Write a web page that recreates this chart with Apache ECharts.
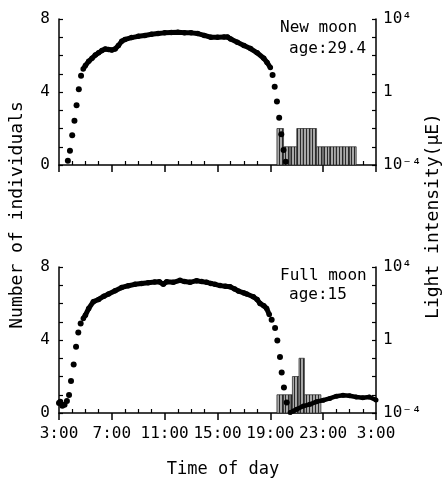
<!DOCTYPE html>
<html><head><meta charset="utf-8">
<script src="https://cdn.jsdelivr.net/npm/echarts@6/dist/echarts.min.js"></script>
<style>html,body{margin:0;padding:0;background:#fff}#c{width:445px;height:482px}</style>
</head><body><div id="c"></div>
<script>
// Time is given in hours since 3:00 (0 = 3:00, 24 = 3:00 next day)
const xTickLabels = ['3:00', '7:00', '11:00', '15:00', '19:00', '23:00', '3:00'];

// ---- New moon (age 29.4) ----
// light intensity (μE), steep dawn/dusk part (separate dots)
const newMoonDotTime = [0.67, 0.83, 1.0, 1.17, 1.33, 1.5, 1.67, 16.17, 16.33, 16.5, 16.67, 16.83, 17.0, 17.17];
const newMoonDotLight = [1.7e-4, 6.0e-4, 4.3e-3, 2.7e-2, 0.19, 1.4, 7.8, 8.5, 1.95, 0.30, 0.039, 0.0048, 6.6e-4, 1.5e-4];
// daytime part (dense dots forming a band)
const newMoonBandTime = [1.83, 2.0, 2.25, 2.5, 2.75, 3.0, 3.25, 3.5, 3.75, 4.0, 4.25, 4.5, 4.75, 5.0, 5.5, 6.0, 6.5, 7.0, 7.5, 8.0, 8.5, 9.0, 9.5, 10.0, 10.5, 11.0, 11.5, 12.0, 12.5, 12.75, 13.0, 13.5, 14.0, 14.5, 15.0, 15.5, 15.75, 16.0];
const newMoonBandLight = [18, 28, 48, 71, 105, 141, 186, 229, 214, 200, 229, 355, 603, 759, 955, 1122, 1259, 1445, 1585, 1738, 1820, 1862, 1778, 1738, 1585, 1259, 1000, 1000, 1047, 1047, 794, 525, 355, 240, 141, 71, 42, 22];
// number of individuals (histogram)
const newMoonBarStart = [16.5, 17.0, 17.5, 18.0, 18.5, 19.0, 19.5, 20.0, 20.5, 21.0, 21.5, 22.0];
const newMoonBarEnd   = [17.0, 17.5, 18.0, 18.5, 19.0, 19.5, 20.0, 20.5, 21.0, 21.5, 22.0, 22.5];
const newMoonBarCount = [2, 1, 1, 2, 2, 2, 1, 1, 1, 1, 1, 1];

// ---- Full moon (age 15) ----
const fullMoonDotTime = [0.0, 0.1, 0.25, 0.42, 0.6, 0.76, 0.91, 1.11, 1.29, 1.46, 1.64, 16.1, 16.36, 16.53, 16.73, 16.86, 17.03, 17.24];
const fullMoonDotLight = [3.5e-4, 4.2e-4, 2.5e-4, 2.8e-4, 4.6e-4, 9.8e-4, 5.6e-3, 0.046, 0.43, 2.6, 8.1, 13, 4.6, 0.95, 0.117, 0.0166, 0.0025, 3.8e-4];
const fullMoonBandTime = [1.84, 2.0, 2.25, 2.6, 3.0, 3.4, 3.75, 4.25, 4.75, 5.25, 5.75, 6.25, 6.75, 7.25, 7.6, 7.9, 8.15, 8.65, 9.16, 9.5, 9.92, 10.42, 10.8, 11.18, 11.5, 11.81, 12.19, 12.6, 12.95, 13.3, 13.58, 14.0, 14.21, 14.71, 15.0, 15.22, 15.5, 15.72, 15.92];
const fullMoonBandLight = [15, 23, 54, 126, 166, 251, 331, 501, 759, 933, 1122, 1259, 1380, 1514, 1549, 1122, 1549, 1445, 1862, 1585, 1445, 1778, 1585, 1445, 1259, 1122, 955, 891, 832, 631, 479, 380, 331, 234, 166, 100, 76, 54, 25];
// moonlit night part
const fullMoonNightTime = [17.5, 17.75, 18.0, 18.5, 19.0, 19.5, 20.0, 20.5, 21.0, 21.5, 22.0, 22.5, 23.0, 23.5, 24.0];
const fullMoonNightLight = [1.05e-4, 1.3e-4, 1.6e-4, 2.4e-4, 3.0e-4, 4.2e-4, 5.0e-4, 6.3e-4, 8.3e-4, 9.3e-4, 8.9e-4, 7.6e-4, 6.9e-4, 7.6e-4, 5.2e-4];
const fullMoonBarStart = [16.5, 17.0, 17.5, 17.67, 18.17, 18.58];
const fullMoonBarEnd   = [17.0, 17.5, 17.67, 18.17, 18.58, 19.83];
const fullMoonBarCount = [1, 1, 1, 2, 3, 1];

// hatched pattern for bars
const pat = document.createElement('canvas');
pat.width = 3; pat.height = 2;
(function(){ const c = pat.getContext('2d'); c.fillStyle = '#a8a8a8'; c.fillRect(0,0,3,2); c.fillStyle = '#2a2a2a'; c.fillRect(0,0,1,2); })();

const FONT = "'DejaVu Sans Mono', 'Liberation Mono', monospace";
const pairs = (a, b) => a.map((v, i) => [v, b[i]]);
const bars = (s, e, c) => s.map((v, i) => [v, e[i], c[i]]);

function renderBar(params, api) {
  const p0 = api.coord([api.value(0), 0]);
  const p1 = api.coord([api.value(1), api.value(2)]);
  return { type: 'rect', shape: { x: p0[0], y: p1[1], width: p1[0] - p0[0], height: p0[1] - p1[1] },
    style: { fill: { image: pat, repeat: 'repeat' }, stroke: '#222', lineWidth: 0.7 } };
}

const grids = [
  { left: 59, top: 19, width: 317, height: 146 },
  { left: 59, top: 267, width: 317, height: 146 }
];

function xAxis(gi, showLabel) {
  return {
    type: 'value', gridIndex: gi, min: 0, max: 24, interval: 4,
    axisLine: { show: true, lineStyle: { color: '#000', width: 1.5 } },
    axisTick: { show: true, inside: false, length: 7, lineStyle: { color: '#000', width: 1.5 } },
    minorTick: { show: true, splitNumber: 4, length: -4, lineStyle: { color: '#000', width: 1.2 } },
    splitLine: { show: false },
    axisLabel: { show: showLabel, margin: 13, fontFamily: FONT, fontSize: 16, color: '#000',
      formatter: v => xTickLabels[Math.round(v / 4)] },
  };
}
function yLeft(gi) {
  return {
    type: 'value', gridIndex: gi, min: 0, max: 8, interval: 1, position: 'left',
    axisLine: { show: true, lineStyle: { color: '#000', width: 1.5 } },
    axisTick: { show: true, inside: true, length: 4, lineStyle: { color: '#000', width: 1.2 } },
    splitLine: { show: false },
    axisLabel: { margin: 9, fontFamily: FONT, fontSize: 16, color: '#000', formatter: v => (v % 4 === 0 ? String(v) : '') }
  };
}
function yRight(gi) {
  return {
    type: 'log', logBase: 10, gridIndex: gi, min: 1e-4, max: 1e4, position: 'right',
    axisLine: { show: true, lineStyle: { color: '#000', width: 1.5 } },
    axisTick: { show: true, inside: true, length: 4, lineStyle: { color: '#000', width: 1.2 } },
    splitLine: { show: false },
    axisLabel: { margin: 7, fontFamily: FONT, fontSize: 16, color: '#000',
      formatter: v => { const e = Math.round(Math.log10(v)); return e === 4 ? '10⁴' : e === 0 ? '1' : e === -4 ? '10⁻⁴' : ''; } }
  };
}

const series = [];
function addPanel(gi, barS, barE, barC, dotT, dotL, bandT, bandL, nightT, nightL) {
  const yl = gi * 2, yr = gi * 2 + 1;
  series.push({ type: 'custom', xAxisIndex: gi, yAxisIndex: yl, renderItem: renderBar, data: bars(barS, barE, barC), z: 1 });
  series.push({ type: 'line', xAxisIndex: gi, yAxisIndex: yr, data: pairs(bandT, bandL), symbol: 'circle', symbolSize: 5.5,
    itemStyle: { color: '#000', opacity: 1 }, lineStyle: { color: '#000', width: 5 }, z: 3 });
  if (nightT) series.push({ type: 'line', xAxisIndex: gi, yAxisIndex: yr, data: pairs(nightT, nightL), symbol: 'circle', symbolSize: 5,
    itemStyle: { color: '#000', opacity: 1 }, lineStyle: { color: '#000', width: 4.5 }, z: 3 });
  series.push({ type: 'scatter', xAxisIndex: gi, yAxisIndex: yr, data: pairs(dotT, dotL), symbolSize: 6,
    itemStyle: { color: '#000', opacity: 1 }, z: 4 });
}
addPanel(0, newMoonBarStart, newMoonBarEnd, newMoonBarCount, newMoonDotTime, newMoonDotLight, newMoonBandTime, newMoonBandLight);
addPanel(1, fullMoonBarStart, fullMoonBarEnd, fullMoonBarCount, fullMoonDotTime, fullMoonDotLight, fullMoonBandTime, fullMoonBandLight, fullMoonNightTime, fullMoonNightLight);

const chart = echarts.init(document.getElementById('c'), null, { renderer: 'canvas' });
chart.setOption({
  animation: false,
  backgroundColor: '#fff',
  grid: grids,
  xAxis: [xAxis(0, false), xAxis(1, true)],
  yAxis: [yLeft(0), yRight(0), yLeft(1), yRight(1)],
  series: series,
  graphic: [
    { type: 'text', left: 280, top: 20, style: { text: 'New moon', font: "16px " + FONT, fill: '#000' } },
    { type: 'text', left: 289, top: 41, style: { text: 'age:29.4', font: "16px " + FONT, fill: '#000' } },
    { type: 'text', left: 280, top: 268, style: { text: 'Full moon', font: "16px " + FONT, fill: '#000' } },
    { type: 'text', left: 289, top: 287, style: { text: 'age:15', font: "16px " + FONT, fill: '#000' } },
    { type: 'text', x: 223, y: 470, style: { text: 'Time of day', font: "17px " + FONT, fill: '#000', align: 'center', verticalAlign: 'middle' } },
    { type: 'text', x: 17, y: 215, rotation: Math.PI / 2, style: { text: 'Number of individuals', font: "18px " + FONT, fill: '#000', align: 'center', verticalAlign: 'middle' } },
    { type: 'text', x: 433, y: 216, rotation: Math.PI / 2, style: { text: 'Light intensity(μE)', font: "18px " + FONT, fill: '#000', align: 'center', verticalAlign: 'middle' } }
  ]
});
</script>
</body></html>
